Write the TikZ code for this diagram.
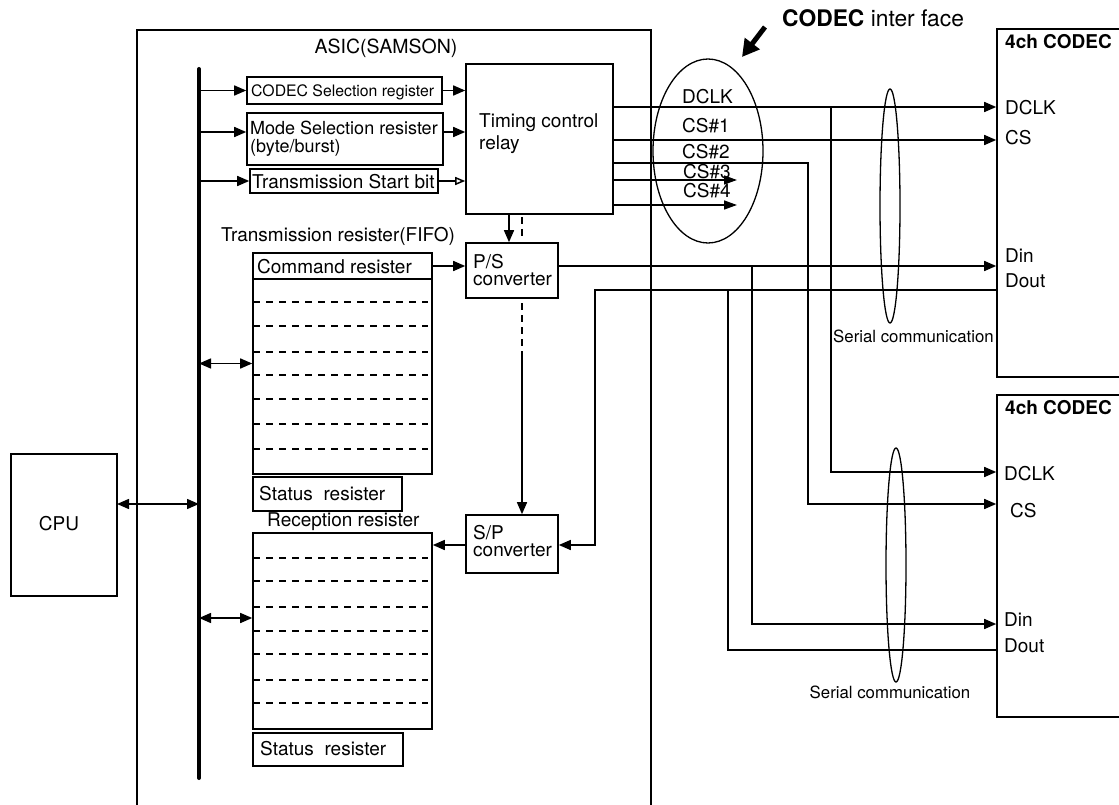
\documentclass[tikz,border=0pt]{standalone}
\usepackage{fontspec}
\setmainfont{TeX Gyre Heros}
\usetikzlibrary{arrows.meta,fit,calc}
\begin{document}
\begin{tikzpicture}[x=1pt,y=-1pt,
  every node/.style={font=\fontsize{19}{22}\selectfont, inner sep=0pt},
  box/.style={draw, line width=1.6pt},
  lbl/.style={anchor=base west},
  ln/.style={line width=1.5pt},
  arr/.style={ln, -{Triangle[length=12pt,width=10pt]}},
  darr/.style={ln, {Triangle[length=12pt,width=10pt]}-{Triangle[length=12pt,width=10pt]}},
  oarr/.style={ln, -{Triangle[open,length=10pt,width=8pt]}},
  regdash/.style={line width=1.7pt, dash pattern=on 7pt off 6pt},
  shortdash/.style={ln, dash pattern=on 7pt off 5pt},
]
\useasboundingbox (0,0) rectangle (1119,805);

% ---------- title and pointer ----------
\node[lbl, font=\fontsize{22.8}{24}\selectfont] (ift) at (782,27) {\textbf{CODEC} inter face};
\coordinate (pT) at (765,27);
\coordinate (pH) at (742,57);
\draw[line width=5pt, -{Triangle[length=17pt,width=18pt]}] (pT) -- (pH);

% ---------- ASIC frame ----------
\draw[line width=1.6pt] (137,805) -- (137,30) -- (651,30) -- (651,805);
\node[anchor=base, font=\fontsize{19.5}{22}\selectfont] (asict) at (386,54) {ASIC(SAMSON)};

% ---------- bus ----------
\coordinate (busT) at (199,69);
\coordinate (busB) at (199,778);
\draw[line width=4pt, line cap=round] (busT) -- (busB);

% ---------- CPU ----------
\node[box, fit={(11,454) (117,596)}] (cpu) {};
\node[anchor=base] (cput) at (59,530) {CPU};
\coordinate (cpuA) at (117,504);
\draw[darr] (cpuA) -- (cpuA -| busT);

% ---------- control registers ----------
\node[box, fit={(247,77) (442,104)}] (csel) {};
\node[lbl, font=\fontsize{15.8}{18}\selectfont] (cselt) at (251,97) {CODEC Selection register};
\node[box, fit={(247,113) (443,165)}] (mode) {};
\node[lbl, font=\fontsize{18}{18}\selectfont] (modet1) at (250,135) {Mode Selection resister};
\node[lbl, font=\fontsize{18}{18}\selectfont] (modet2) at (250,153) {(byte/burst)};
\node[box, fit={(250,169) (438,193)}] (stb) {};
\node[lbl] (stbt) at (252,189) {Transmission Start bit};

\draw[arr] (busT |- csel.west) -- (csel.west);
\coordinate (mA) at (199,132);
\draw[arr] (mA) -- (mA -| mode.west);
\draw[arr] (busT |- stb.west) -- (stb.west);

% ---------- timing control relay ----------
\node[box, fit={(466,64) (613,214)}] (tim) {};
\node[lbl] (timt1) at (479,128) {Timing control};
\node[lbl] (timt2) at (479,150) {relay};
\draw[arr] (csel.east) -- (csel.east -| tim.west);
\coordinate (mB) at (443,132);
\draw[arr] (mB) -- (mB -| tim.west);
\draw[oarr] (stb.east) -- (stb.east -| tim.west);

% ---------- transmission register ----------
\node[lbl] (trt) at (221,242) {Transmission resister(FIFO)};
\node[box, fit={(253,253) (432,474)}] (trans) {};
\draw[line width=1.6pt] (253,279) -- (432,279);
\node[lbl] (cmdt) at (257,273) {Command resister};
\foreach \yy in {302,326,352,375,399,424,449} \draw[regdash] (253,\yy) -- (428,\yy);
\node[box, fit={(253,477) (402,511)}] (st1) {};
\node[lbl] (st1t) at (259,500) {Status\ \ resister};
\draw[darr] (busT |- trans.west) -- (trans.west);

% ---------- P/S converter ----------
\node[box, fit={(466,243) (558,298)}] (ps) {};
\node[lbl] (pst1) at (473,268) {P/S};
\node[lbl] (pst2) at (473,285) {converter};
\coordinate (cmdA) at (432,266);
\draw[arr] (cmdA) -- (cmdA -| ps.west);
\coordinate (tA) at (509,214);
\draw[arr] (tA) -- (tA |- ps.north);
\coordinate (tB) at (522,217);
\coordinate (tC) at (522,241);
\draw[shortdash] (tB) -- (tC);

% ---------- reception register ----------
\node[lbl] (rect) at (267,526) {Reception resister};
\node[box, fit={(253,533) (432,729)}] (rec) {};
\foreach \yy in {558,581,607,631,654,680,703} \draw[regdash] (253,\yy) -- (428,\yy);
\node[box, fit={(253,733) (403,766)}] (st2) {};
\node[lbl] (st2t) at (260,755) {Status\ \ resister};
\coordinate (rA) at (199,618);
\draw[darr] (rA) -- (rA -| rec.west);

% ---------- S/P converter ----------
\node[box, fit={(466,515) (558,573)}] (sp) {};
\node[lbl] (spt1) at (473,539) {S/P};
\node[lbl] (spt2) at (473,556) {converter};
\coordinate (spA) at (466,545);
\draw[arr] (spA) -- (spA -| rec.east);
\coordinate (pB) at (522,303);
\coordinate (pC) at (522,354);
\draw[shortdash] (pB) -- (pC);
\draw[arr] (pC) -- (pC |- sp.north);

% ---------- CODECs ----------
\node[box, fit={(997,29) (1145,377)}] (cod1) {};
\node[box, fit={(997,395) (1145,717)}] (cod2) {};
\node[lbl, font=\fontsize{19}{22}\selectfont\bfseries] (c1t) at (1005,49) {4ch CODEC};
\node[lbl] (c1a) at (1005,115) {DCLK};
\node[lbl] (c1b) at (1005,145) {CS};
\node[lbl] (c1c) at (1005,262) {Din};
\node[lbl] (c1d) at (1005,287) {Dout};
\node[lbl, font=\fontsize{19}{22}\selectfont\bfseries] (c2t) at (1005,414) {4ch CODEC};
\node[lbl] (c2a) at (1004,480) {DCLK};
\node[lbl] (c2b) at (1010,517) {CS};
\node[lbl] (c2c) at (1004,626) {Din};
\node[lbl] (c2d) at (1004,652) {Dout};

% ---------- interface lines ----------
\coordinate (yDCLK) at (0,107);
\coordinate (yCS1) at (0,140);
\coordinate (yCS2) at (0,163);
\coordinate (yCS3) at (0,180);
\coordinate (yCS4) at (0,205);
\coordinate (yDin) at (0,266);
\coordinate (yDout) at (0,290);
\coordinate (yD2) at (0,472);
\coordinate (yC2) at (0,504);
\coordinate (yI2) at (0,624);
\coordinate (yO2) at (0,650);
\coordinate (ySP) at (0,545);

\draw[arr] (tim.east |- yDCLK) -- (cod1.west |- yDCLK);
\draw[arr] (tim.east |- yCS1) -- (cod1.west |- yCS1);
\draw[arr] (831,107) |- (cod2.west |- yD2);
\draw[arr] (tim.east |- yCS2) -- (808,163) |- (cod2.west |- yC2);
\draw[ln, -{Triangle[length=13pt,width=9pt]}] (tim.east |- yCS3) -- (737,180);
\draw[ln, -{Triangle[length=13pt,width=9pt]}] (tim.east |- yCS4) -- (737,205);
\draw[arr] (ps.east |- yDin) -- (cod1.west |- yDin);
\draw[arr] (752,266) |- (cod2.west |- yI2);
\draw[arr] (cod1.west |- yDout) -- (595,290) |- (sp.east |- ySP);
\draw[ln] (728,290) |- (cod2.west |- yO2);

\node[lbl] (lD) at (682,104) {DCLK};
\node[lbl] (l1) at (682,133) {CS\#1};
\node[lbl] (l2) at (682,159) {CS\#2};
\node[lbl] (l3) at (683,179) {CS\#3};
\node[lbl] (l4) at (683,198) {CS\#4};

% ---------- ellipses ----------
\draw[line width=1.3pt] (708,151) ellipse [x radius=55pt, y radius=92pt];
\draw[line width=1.3pt] (890,206) ellipse [x radius=10pt, y radius=117pt];
\draw[line width=1.3pt] (896,565) ellipse [x radius=10pt, y radius=117pt];
\node[lbl, font=\fontsize{16.8}{18}\selectfont] (ser1) at (833,342) {Serial communication};
\node[anchor=base, font=\fontsize{16.8}{18}\selectfont] (ser2) at (890,698) {Serial communication};
\end{tikzpicture}
\end{document}
